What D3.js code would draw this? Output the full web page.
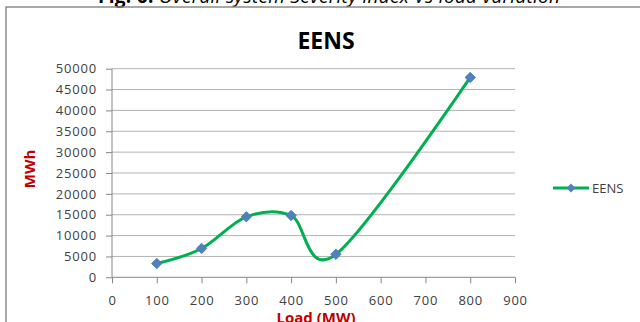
<!DOCTYPE html>
<html>
<head>
<meta charset="utf-8">
<script src="https://cdn.jsdelivr.net/npm/d3@7"></script>
<style>
  html, body { margin: 0; padding: 0; background: #fff; overflow: hidden; }
  text { font-family: "Open Sans", "Liberation Sans", sans-serif; }
</style>
</head>
<body>
<div id="chart"></div>
<script>
// data
const loads = [100, 200, 300, 400, 500, 800];
const eens = [3300, 6900, 14500, 14800, 5500, 47900];
const xTicks = [0, 100, 200, 300, 400, 500, 600, 700, 800, 900];
const yTicks = [0, 5000, 10000, 15000, 20000, 25000, 30000, 35000, 40000, 45000, 50000];
const seriesName = 'EENS';

const width = 640, height = 322;
const plot = {left: 112, right: 515, top: 68.7, bottom: 277.3};

const svg = d3.select('#chart')
    .append('svg')
    .attr('width', width)
    .attr('height', height);

// caption of the page, clipped at the top
const cap = svg.append('text')
    .attr('x', 98)
    .attr('y', 3)
    .attr('font-family', '"Liberation Serif", serif')
    .attr('font-size', 19)
    .attr('textLength', 462)
    .attr('fill', '#000');
cap.append('tspan').attr('font-weight', 'bold').text('Fig. 6:');
cap.append('tspan').attr('font-style', 'italic').text(' Overall system Severity index  Vs load variation');

// chart frame
svg.append('rect')
    .attr('x', 6)
    .attr('y', 7)
    .attr('width', 700)
    .attr('height', 400)
    .attr('fill', 'none')
    .attr('stroke', '#8c8c8c')
    .attr('stroke-width', 1.5);

const x = d3.scaleLinear().domain([0, 900]).range([plot.left, plot.right]);
const y = d3.scaleLinear().domain([0, 50000]).range([plot.bottom, plot.top]);

// gridlines
svg.append('g')
    .selectAll('line')
    .data(yTicks.filter((d) => d > 0))
    .enter()
    .append('line')
    .attr('x1', plot.left)
    .attr('x2', plot.right)
    .attr('y1', (d) => y(d))
    .attr('y2', (d) => y(d))
    .attr('stroke', '#b3b3b3')
    .attr('stroke-width', 1);

// axes
const yAxis = svg.append('g')
    .attr('transform', `translate(${plot.left},0)`)
    .call(d3.axisLeft(y).tickValues(yTicks).tickSize(6).tickPadding(9).tickFormat(d3.format('d')));
const xAxis = svg.append('g')
    .attr('transform', `translate(0,${plot.bottom})`)
    .call(d3.axisBottom(x).tickValues(xTicks).tickSize(6).tickPadding(12).tickFormat(d3.format('d')));

[yAxis, xAxis].forEach((ax) => {
    ax.select('.domain').attr('stroke', '#868686').attr('stroke-width', 1);
    ax.selectAll('.tick line').attr('stroke', '#868686');
    ax.selectAll('.tick text')
        .attr('fill', '#404040')
        .attr('font-size', 13)
        .attr('letter-spacing', 0.8)
        .attr('font-family', '"Open Sans", sans-serif');
});
// axisLeft/axisBottom draw the outer ticks on the domain path; keep it plain
yAxis.select('.domain').attr('d', `M0,${plot.top}V${plot.bottom}`);
xAxis.select('.domain').attr('d', `M${plot.left},0H${plot.right}`);

// axis titles
svg.append('text')
    .attr('x', 316)
    .attr('y', 323)
    .attr('text-anchor', 'middle')
    .attr('font-size', 15)
    .attr('font-weight', 'bold')
    .attr('fill', '#c00000')
    .text('Load (MW)');

svg.append('text')
    .attr('transform', 'translate(35,169) rotate(-90)')
    .attr('text-anchor', 'middle')
    .attr('font-size', 15)
    .attr('font-weight', 'bold')
    .attr('fill', '#c00000')
    .text('MWh');

// title
svg.append('text')
    .attr('x', 326)
    .attr('y', 49)
    .attr('text-anchor', 'middle')
    .attr('font-size', 23)
    .attr('font-weight', 'bold')
    .attr('fill', '#000')
    .text(seriesName);

// smoothed line, like the spreadsheet's smooth line
const points = loads.map((l, i) => [l, eens[i]]);
const line = d3.line()
    .x((d) => x(d[0]))
    .y((d) => y(d[1]))
    .curve(d3.curveCardinal.tension(0));

svg.append('path')
    .datum(points)
    .attr('d', line)
    .attr('fill', 'none')
    .attr('stroke', '#00b050')
    .attr('stroke-width', 3)
    .attr('stroke-linejoin', 'round');

const diamond = d3.symbol().type(d3.symbolDiamond2).size(70);

svg.append('g')
    .selectAll('path')
    .data(points)
    .enter()
    .append('path')
    .attr('transform', (d) => `translate(${x(d[0])},${y(d[1])})`)
    .attr('d', diamond)
    .attr('fill', '#4f81bd')
    .attr('stroke', '#4a7ab5')
    .attr('stroke-width', 0.8);

// legend
const legend = svg.append('g').attr('transform', 'translate(553,188)');
legend.append('line')
    .attr('x1', 0)
    .attr('x2', 36)
    .attr('stroke', '#00b050')
    .attr('stroke-width', 3);
legend.append('path')
    .attr('transform', 'translate(18,0)')
    .attr('d', d3.symbol().type(d3.symbolDiamond2).size(50))
    .attr('fill', '#4f81bd');
legend.append('text')
    .attr('x', 39)
    .attr('y', 4.5)
    .attr('font-size', 13)
    .attr('fill', '#404040')
    .text(seriesName);
</script>
</body>
</html>
